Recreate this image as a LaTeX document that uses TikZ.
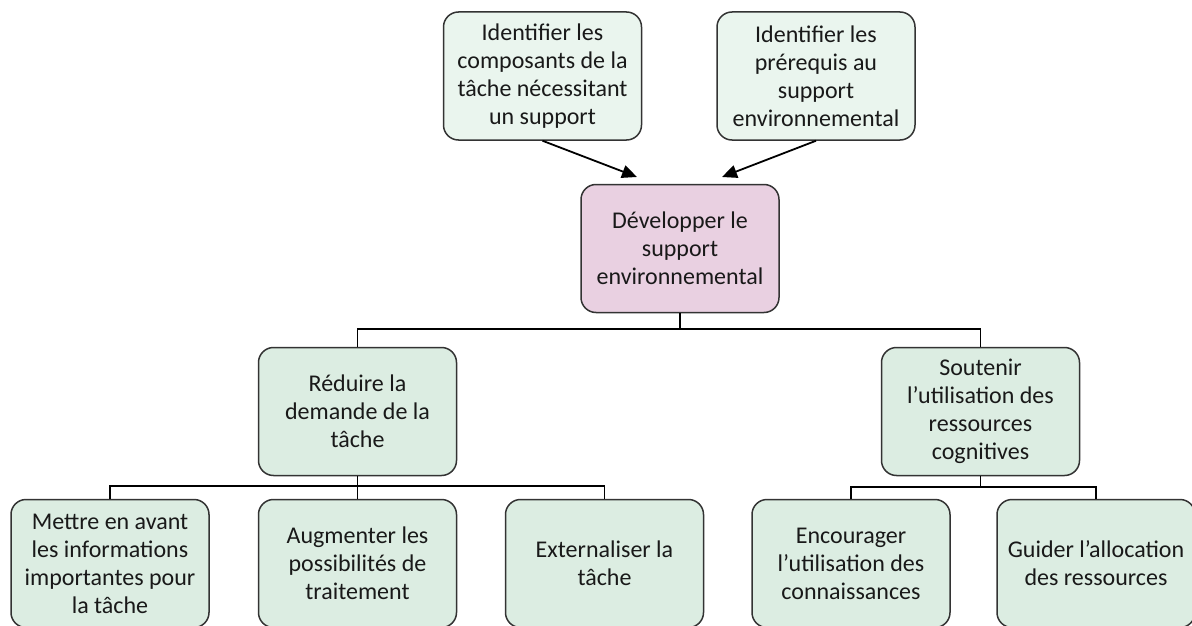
\documentclass[tikz,border=0pt]{standalone}
\usepackage{fontspec}
\setmainfont{Carlito}
\usetikzlibrary{arrows.meta}
\definecolor{topfill}{HTML}{EAF5EE}
\definecolor{boxfill}{HTML}{DCEDE2}
\definecolor{pinkfill}{HTML}{E9D0E1}
\definecolor{edge}{HTML}{333333}
\tikzset{
  box/.style={draw=edge, line width=1.5pt, rounded corners=15pt, align=center,
    minimum width=198pt, minimum height=128pt, inner sep=2pt,
    font=\fontsize{24}{28}\selectfont, text=black!90},
  topbox/.style={box, fill=topfill},
  gbox/.style={box, fill=boxfill},
  pbox/.style={box, fill=pinkfill},
  conn/.style={draw=black, line width=1.8pt},
  arr/.style={conn, -{Triangle[length=15pt,width=13pt]}}
}
\begin{document}
\begin{tikzpicture}[x=1pt,y=-1pt]
\useasboundingbox (0,0) rectangle (1192,626);
\clip (0,0) rectangle (1192,626);
\node[topbox] (t1) at (542.5,76) {Identifier les\\composants de la\\tâche nécessitant\\un support};
\node[topbox] (t2) at (816,76) {Identifier les\\prérequis au\\support\\environnemental};
\node[pbox] (c) at (680,248.5) {Développer le\\support\\environnemental};
\node[gbox] (r) at (357.5,411.5) {Réduire la\\demande de la\\tâche};
\node[gbox] (s) at (980.5,411.5) {Soutenir\\l’utilisation des\\ressources\\cognitives};
\node[gbox] (m) at (110,563.5) {Mettre en avant\\les informations\\importantes pour\\la tâche};
\node[gbox] (a) at (357.5,563.5) {Augmenter les\\possibilités de\\traitement};
\node[gbox] (e) at (604.5,563.5) {Externaliser la\\tâche};
\node[gbox] (en) at (851,563.5) {Encourager\\l’utilisation des\\connaissances};
\node[gbox] (g) at (1096,563.5) {Guider l’allocation\\des ressources};
\coordinate (b1) at (0,329);
\coordinate (b2) at (0,486);
\coordinate (b3) at (0,487);
\coordinate (h1) at (637,177);
\coordinate (h2) at (722,177);
\draw[arr] (t1.south) -- (h1);
\draw[arr] (t2.south) -- (h2);
\draw[conn] (r.north) |- (c.south |- b1) -- (c.south);
\draw[conn] (s.north) |- (c.south |- b1);
\draw[conn] (m.north) |- (r.south |- b2) -- (r.south);
\draw[conn] (e.north) |- (r.south |- b2);
\draw[conn] (a.north) -- (r.south |- b2);
\draw[conn] (en.north) |- (s.south |- b3) -- (s.south);
\draw[conn] (g.north) |- (s.south |- b3);
\end{tikzpicture}
\end{document}
